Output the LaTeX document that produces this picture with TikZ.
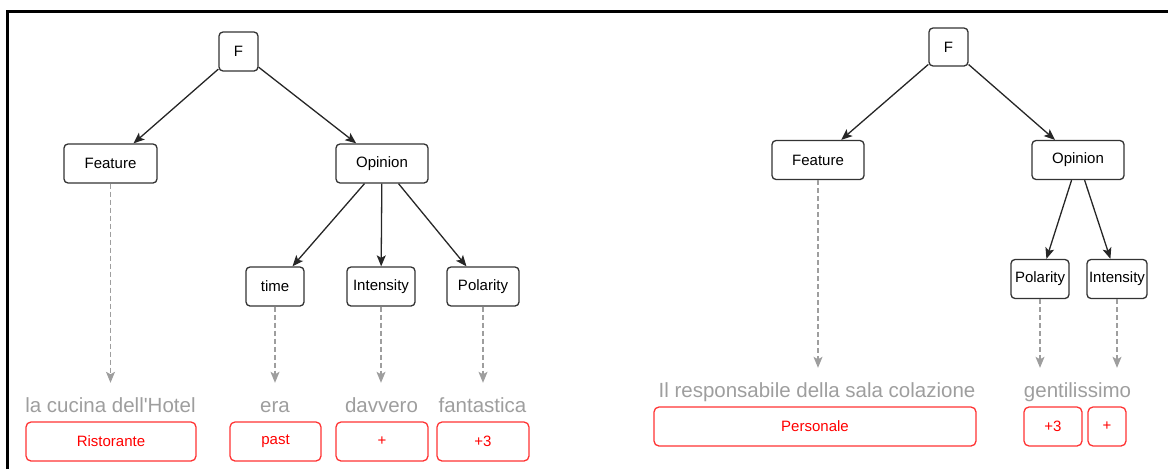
\documentclass[tikz,border=0pt]{standalone}
\usepackage{fontspec}
\setmainfont{Liberation Sans}
\usetikzlibrary{arrows.meta}

\begin{document}
\begin{tikzpicture}[
            x=1pt, y=-1pt,
            >={Stealth[length=11pt,width=9pt,inset=2.5pt]},
            box/.style={draw=black!80, line width=1.3pt, rounded corners=4pt, fill=white,
                minimum height=39pt, inner sep=0pt, font=\fontsize{15}{18}\selectfont},
            tag/.style={draw=red!80, line width=1.3pt, rounded corners=5pt, text=red,
                minimum height=39pt, inner sep=0pt, font=\fontsize{15}{18}\selectfont},
            word/.style={text=black!38, anchor=base, inner sep=0pt, text height=15pt,
                font=\fontsize{20.5}{24}\selectfont},
            link/.style={->, black!85, line width=1.3pt},
            dashlink/.style={->, black!38, line width=1.1pt, dash pattern=on 5pt off 3pt, shorten >=14pt},
    ]
    \useasboundingbox (0, 0) rectangle (1168, 469);
    \draw[line width=3pt] (7.5, 469) -- (7.5, 11.5) -- (1168, 11.5);

    \node[box, minimum width=39pt] (f1) at (238.5, 51.5) {F};
    \node[box, minimum width=93pt] (feat1) at (110.5, 163.5) {Feature};
    \node[box, minimum width=92pt] (opin1) at (382, 163.5) {Opinion};
    \node[box, minimum width=58pt] (time1) at (275, 286.5) {time};
    \node[box, minimum width=68pt] (int1) at (381, 286.5) {Intensity};
    \node[box, minimum width=72pt] (pol1) at (483, 286.5) {Polarity};

    \draw[link] (f1) -- (feat1);
    \draw[link] (f1) -- (opin1);
    \draw[link] (opin1) -- (time1);
    \draw[link] (opin1) -- (int1);
    \draw[link] (opin1) -- (pol1);

    \node[word] (w1) at (110.5, 412) {la cucina dell\textquotesingle Hotel};
    \node[word] (w2) at (275, 412) {era};
    \node[word] (w3) at (381.5, 412) {davvero};
    \node[word] (w4) at (482.5, 412) {fantastica};

    \draw[dashlink] (feat1.south) -- (feat1.south |- w1.north);
    \draw[dashlink] (time1.south) -- (time1.south |- w2.north);
    \draw[dashlink] (int1.south) -- (int1.south |- w3.north);
    \draw[dashlink] (pol1.south) -- (pol1.south |- w4.north);

    \node[tag, minimum width=170pt] (t1) at (111, 441.5) {Ristorante};
    \node[tag, minimum width=91pt] (t2) at (275.5, 441.5) {past};
    \node[tag, minimum width=92pt] (t3) at (382, 441.5) {+};
    \node[tag, minimum width=92pt] (t4) at (483, 441.5) {+3};

    \node[box, minimum width=39pt, minimum height=38pt] (f2) at (948.5, 47) {F};
    \node[box, minimum width=92pt] (feat2) at (818, 160) {Feature};
    \node[box, minimum width=92pt] (opin2) at (1078, 160) {Opinion};
    \node[box, minimum width=58pt] (pol2) at (1040, 279) {Polarity};
    \node[box, minimum width=60pt] (int2) at (1117, 279) {Intensity};

    \draw[link] (f2) -- (feat2);
    \draw[link] (f2) -- (opin2);
    \draw[link] (opin2) -- (pol2);
    \draw[link] (opin2) -- (int2);

    \node[word] (w5) at (817, 397) {Il responsabile della sala colazione};
    \node[word] (w6) at (1077.5, 397) {gentilissimo};

    \draw[dashlink] (feat2.south) -- (feat2.south |- w5.north);
    \draw[dashlink] (pol2.south) -- (pol2.south |- w6.north);
    \draw[dashlink] (int2.south) -- (int2.south |- w6.north);

    \node[tag, minimum width=322pt] (t5) at (815, 426.5) {Personale};
    \node[tag, minimum width=58pt] (t6) at (1053, 426.5) {+3};
    \node[tag, minimum width=38pt] (t7) at (1107, 426.5) {+};
    \end{tikzpicture}
\end{document}
